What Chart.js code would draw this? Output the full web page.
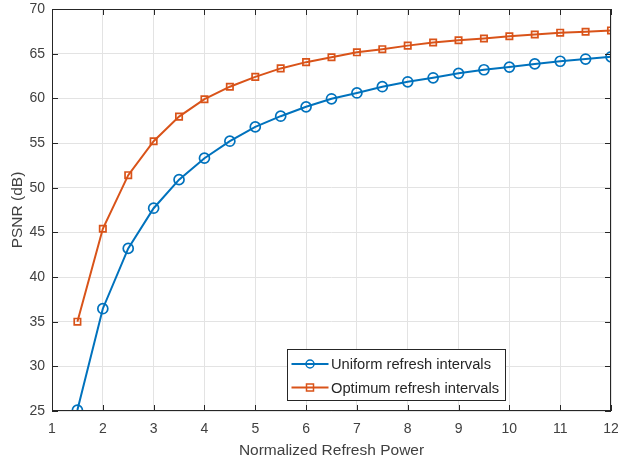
<!DOCTYPE html>
<html>
<head>
<meta charset="utf-8">
<script src="https://cdn.jsdelivr.net/npm/chart.js@4/dist/chart.umd.min.js"></script>
<style>
  html, body { margin: 0; padding: 0; background: #fff; }
  #wrap { width: 618px; height: 464px; position: relative; }
</style>
</head>
<body>
<div id="wrap"><canvas id="chart"></canvas></div>
<script>
const refreshPower = [1.5, 2, 2.5, 3, 3.5, 4, 4.5, 5, 5.5, 6, 6.5, 7, 7.5, 8, 8.5, 9, 9.5, 10, 10.5, 11, 11.5, 12];
const uniformPsnr = [25.1, 36.45, 43.2, 47.7, 50.9, 53.3, 55.2, 56.8, 58.0, 59.05, 59.95, 60.6, 61.3, 61.85, 62.3, 62.8, 63.2, 63.5, 63.85, 64.15, 64.4, 64.65];
const optimumPsnr = [35.0, 45.4, 51.4, 55.2, 57.95, 59.9, 61.3, 62.4, 63.35, 64.05, 64.6, 65.15, 65.5, 65.9, 66.25, 66.5, 66.7, 66.95, 67.15, 67.35, 67.45, 67.6];
const xTicks = [1, 2, 3, 4, 5, 6, 7, 8, 9, 10, 11, 12];
const yTicks = [25, 30, 35, 40, 45, 50, 55, 60, 65, 70];
const seriesNames = ['Uniform refresh intervals', 'Optimum refresh intervals'];

const blue = '#0072BD';
const orange = '#D95319';
const axisColor = '#262626';
const labelColor = '#404040';
const font = '"Liberation Sans", Arial, sans-serif';

// box, inward ticks and the legend inside the plot, MATLAB style
const matlabAxes = {
    id: 'matlabAxes',
    afterDatasetsDraw(chart) {
        const ctx = chart.ctx;
        const a = chart.chartArea;
        const xs = chart.scales.x, ys = chart.scales.y;
        ctx.save();
        ctx.strokeStyle = axisColor;
        ctx.lineWidth = 1;
        ctx.strokeRect(a.left + 0.5, a.top + 0.5, a.right - a.left - 1, a.bottom - a.top - 1);
        ctx.beginPath();
        xTicks.forEach(v => {
            const px = Math.round(xs.getPixelForValue(v)) + 0.5;
            ctx.moveTo(px, a.bottom); ctx.lineTo(px, a.bottom - 6);
            ctx.moveTo(px, a.top); ctx.lineTo(px, a.top + 6);
        });
        yTicks.forEach(v => {
            const py = Math.round(ys.getPixelForValue(v)) + 0.5;
            ctx.moveTo(a.left, py); ctx.lineTo(a.left + 6, py);
            ctx.moveTo(a.right, py); ctx.lineTo(a.right - 6, py);
        });
        ctx.stroke();

        // legend
        const bx = 287.5, by = 349.5, bw = 218, bh = 51;
        ctx.fillStyle = '#fff';
        ctx.fillRect(bx, by, bw, bh);
        ctx.strokeStyle = axisColor;
        ctx.strokeRect(bx, by, bw, bh);
        ctx.font = '14.7px ' + font;
        ctx.textBaseline = 'middle';
        const colors = [blue, orange];
        seriesNames.forEach((name, i) => {
            const cy = by + 14.5 + i * 23.5;
            ctx.strokeStyle = colors[i];
            ctx.lineWidth = 2;
            ctx.beginPath();
            ctx.moveTo(bx + 4, cy); ctx.lineTo(bx + 41, cy);
            ctx.stroke();
            ctx.lineWidth = 1.5;
            ctx.beginPath();
            if (i === 0) ctx.arc(bx + 22.5, cy, 4, 0, Math.PI * 2);
            else ctx.rect(bx + 19, cy - 3.5, 7, 7);
            ctx.stroke();
            ctx.fillStyle = axisColor;
            ctx.fillText(name, bx + 43.5, cy + 1);
        });
        ctx.restore();
    }
};

const ctx = document.getElementById('chart').getContext('2d');
new Chart(ctx, {
    type: 'line',
    data: {
        datasets: [{
            label: seriesNames[0],
            data: refreshPower.map((x, i) => ({ x: x, y: uniformPsnr[i] })),
            borderColor: blue,
            backgroundColor: 'rgba(0,0,0,0)',
            borderWidth: 2,
            pointStyle: 'circle',
            pointRadius: 5,
            pointBorderWidth: 1.7,
            tension: 0
        }, {
            label: seriesNames[1],
            data: refreshPower.map((x, i) => ({ x: x, y: optimumPsnr[i] })),
            borderColor: orange,
            backgroundColor: 'rgba(0,0,0,0)',
            borderWidth: 2,
            pointStyle: 'rect',
            pointRadius: 4.5,
            pointBorderWidth: 1.7,
            tension: 0
        }]
    },
    options: {
        responsive: true,
        maintainAspectRatio: false,
        animation: false,
        layout: { padding: { top: 9, right: 7, left: 0, bottom: 0 } },
        plugins: {
            legend: { display: false },
            tooltip: { enabled: false }
        },
        scales: {
            x: {
                type: 'linear',
                min: 1, max: 12,
                afterBuildTicks: scale => { scale.ticks = xTicks.map(v => ({ value: v })); },
                afterFit: scale => {
                    scale.height = 53;
                    scale.paddingLeft = 0;
                    scale.paddingRight = 0;
                },
                grid: { color: '#e3e3e3', drawTicks: false },
                border: { display: false },
                ticks: { color: labelColor, padding: 10, font: { family: font, size: 14 } },
                title: { display: true, text: 'Normalized Refresh Power', color: labelColor, padding: { top: 4 }, font: { family: font, size: 15.5 } }
            },
            y: {
                type: 'linear',
                min: 25, max: 70,
                afterBuildTicks: scale => { scale.ticks = yTicks.map(v => ({ value: v })); },
                afterFit: scale => {
                    scale.width = 52;
                    scale.paddingTop = 0;
                    scale.paddingBottom = 0;
                },
                grid: { color: '#e3e3e3', drawTicks: false },
                border: { display: false },
                ticks: { color: labelColor, padding: 7, font: { family: font, size: 14 } },
                title: { display: true, text: 'PSNR (dB)', color: labelColor, padding: { top: 8, bottom: 2 }, font: { family: font, size: 15.5 } }
            }
        }
    },
    plugins: [matlabAxes]
});
</script>
</body>
</html>
